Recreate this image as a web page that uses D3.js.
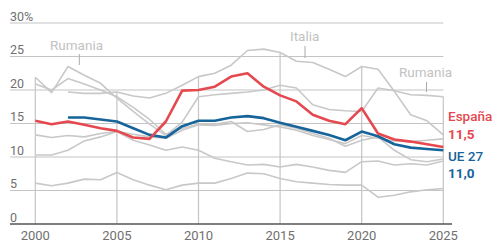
<!DOCTYPE html>
<html>
<head>
<meta charset="utf-8">
<script src="https://cdn.jsdelivr.net/npm/d3@7"></script>
<style>
  body { margin: 0; background: #fff; }
  svg { display: block; font-family: Roboto, "Noto Sans", sans-serif; }
</style>
</head>
<body>
<div id="chart"></div>
<script>
const years = d3.range(2000, 2026);

// Spain and EU 27 (highlighted)
const espana = [15.4, 14.9, 15.3, 14.8, 14.3, 13.9, 12.9, 12.7, 15.3, 19.9, 20.0, 20.5, 22.0, 22.5, 20.5, 19.2, 18.3, 16.3, 15.4, 14.9, 17.3, 13.5, 12.6, 12.3, 11.9, 11.5];
const ue27 = [null, null, 15.9, 15.9, 15.6, 15.3, 14.3, 13.3, 12.9, 14.6, 15.4, 15.4, 15.9, 16.1, 15.8, 15.1, 14.5, 13.9, 13.3, 12.5, 13.8, 13.1, 11.9, 11.4, 11.2, 11.0];

// other countries (grey)
const italia = [null, null, 19.7, 19.5, 19.5, 19.7, 19.1, 18.8, 19.5, 20.7, 22.0, 22.5, 23.7, 25.9, 26.1, 25.6, 24.3, 24.1, 23.1, 22.0, 23.5, 23.1, 19.8, 16.3, 15.4, 13.3];
const rumania = [21.9, 19.6, 23.5, 22.2, 21.0, 18.8, 16.8, 14.9, 13.2, 15.2, 19.0, 19.3, 19.5, 19.7, 20.0, 20.7, 20.3, 17.8, 17.1, 16.9, 16.8, 20.3, 19.9, 19.3, 19.2, 19.0];
const bulgaria = [20.9, 20.0, 21.7, 20.9, 20.0, 19.0, 17.4, 15.6, 13.4, 14.3, 14.9, 14.9, 15.3, 13.8, 14.1, 14.8, 14.3, 13.5, 12.8, 11.6, 12.5, 13.0, 11.0, 9.6, 9.3, 9.7];
const francia = [10.3, 10.3, 11.0, 12.4, 13.0, 13.8, 13.4, 13.0, 12.8, 14.0, 14.8, 14.7, 15.0, 15.1, 14.8, 14.5, 14.0, 13.2, 12.6, 12.0, 13.2, 12.8, 12.4, 12.3, 12.5, 12.7];
const alemania = [13.3, 12.9, 13.2, 13.0, 13.5, 13.8, 12.5, 11.8, 11.0, 11.5, 11.0, 9.8, 9.3, 8.8, 8.9, 8.5, 8.9, 8.5, 8.0, 7.7, 9.3, 9.4, 8.8, 9.0, 8.8, 9.4];
const paisesBajos = [6.1, 5.7, 6.1, 6.7, 6.6, 7.7, 6.6, 5.8, 5.1, 5.8, 6.1, 6.1, 6.8, 7.6, 7.5, 6.8, 6.3, 6.1, 5.9, 5.8, 5.8, 4.0, 4.3, 4.8, 5.1, 5.3];

const greySeries = [italia, rumania, bulgaria, francia, alemania, paisesBajos];

const yTicks = [0, 5, 10, 15, 20, 25, 30];
const xTicks = [2000, 2005, 2010, 2015, 2020, 2025];

const width = 492;
const height = 244;
const grid = '#c4c4c4';
const red = '#e5484f';
const blue = '#17649b';

const x = d3.scaleLinear().domain([2000, 2025]).range([35.3, 443.3]);
const y = d3.scaleLinear().domain([0, 30]).range([224, 23]);

const svg = d3.select('#chart').append('svg')
  .attr('width', width)
  .attr('height', height);

// horizontal grid
svg.append('g').selectAll('line')
  .data(yTicks.filter((t) => t > 0))
  .enter()
  .append('line')
  .attr('x1', 10)
  .attr('x2', x(2025))
  .attr('y1', (d) => y(d))
  .attr('y2', (d) => y(d))
  .attr('stroke', grid)
  .attr('stroke-width', 1.2);

// vertical grid up to the highest value of that year
const all = [espana, ue27, ...greySeries];
svg.append('g').selectAll('line')
  .data(xTicks)
  .enter()
  .append('line')
  .attr('x1', (d) => x(d))
  .attr('x2', (d) => x(d))
  .attr('y1', y(0))
  .attr('y2', (d) => y(d3.max(all, (s) => s[years.indexOf(d)])))
  .attr('stroke', grid)
  .attr('stroke-width', 1.2);

// y labels
svg.append('g').selectAll('text')
  .data(yTicks)
  .enter()
  .append('text')
  .attr('x', 10)
  .attr('y', (d) => y(d) - 2.5)
  .attr('font-size', 12.5)
  .attr('fill', '#707070')
  .text((d) => (d === 30 ? '30%' : d));

// x axis baseline
svg.append('line')
  .attr('x1', 10)
  .attr('x2', 452)
  .attr('y1', y(0))
  .attr('y2', y(0))
  .attr('stroke', '#555')
  .attr('stroke-width', 1.6);

svg.append('g').selectAll('text')
  .data(xTicks)
  .enter()
  .append('text')
  .attr('x', (d) => x(d))
  .attr('y', 239.5)
  .attr('text-anchor', 'middle')
  .attr('font-size', 13)
  .attr('fill', '#707070')
  .text((d) => d);

const line = d3.line()
  .defined((d) => d != null)
  .x((d, i) => x(years[i]))
  .y((d) => y(d));

svg.append('g').selectAll('path')
  .data(greySeries)
  .enter()
  .append('path')
  .attr('d', (d) => line(d))
  .attr('fill', 'none')
  .attr('stroke', '#c8c8c8')
  .attr('stroke-width', 1.6)
  .attr('stroke-linejoin', 'round');

svg.append('path')
  .attr('d', line(ue27))
  .attr('fill', 'none')
  .attr('stroke', blue)
  .attr('stroke-width', 2.6)
  .attr('stroke-linejoin', 'round');

svg.append('path')
  .attr('d', line(espana))
  .attr('fill', 'none')
  .attr('stroke', red)
  .attr('stroke-width', 2.6)
  .attr('stroke-linejoin', 'round');

// grey country labels with ticks
const greyLabels = [
  { text: 'Rumania', x: 50, y: 50, tx: 79.3, t1: 54, t2: 65 },
  { text: 'Italia', x: 290, y: 40.5, tx: 305, t1: 46, t2: 58 },
  { text: 'Rumania', x: 399, y: 77, tx: 426.5, t1: 82, t2: 92 },
];
greyLabels.forEach((l) => {
  svg.append('text')
    .attr('x', l.x)
    .attr('y', l.y)
    .attr('font-size', 13.5)
    .attr('fill', '#c2c2c2')
    .text(l.text);
  svg.append('line')
    .attr('x1', l.tx).attr('x2', l.tx)
    .attr('y1', l.t1).attr('y2', l.t2)
    .attr('stroke', '#aaa')
    .attr('stroke-width', 1);
});

// end labels
const endLabels = [
  { text: 'España', y: 120.7, color: red, weight: 500 },
  { text: '11,5', y: 138.5, color: red, weight: 700 },
  { text: 'UE 27', y: 161, color: blue, weight: 500 },
  { text: '11,0', y: 178, color: blue, weight: 700 },
];
svg.append('g').selectAll('text')
  .data(endLabels)
  .enter()
  .append('text')
  .attr('x', 448)
  .attr('y', (d) => d.y)
  .attr('font-size', 13.5)
  .attr('font-weight', (d) => d.weight)
  .attr('fill', (d) => d.color)
  .text((d) => d.text);
</script>
</body>
</html>
